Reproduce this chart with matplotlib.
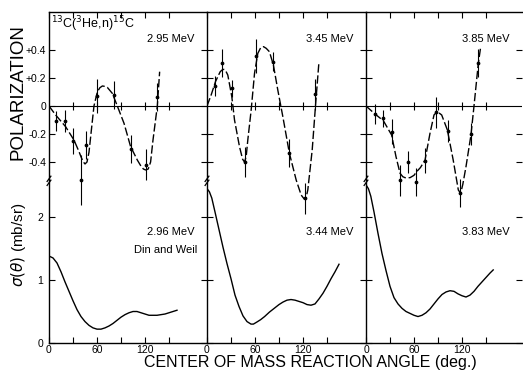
import matplotlib
matplotlib.use('Agg')
import matplotlib.pyplot as plt

plt.rcParams['font.family'] = ['Liberation Sans', 'DejaVu Sans']
plt.rcParams['mathtext.fontset'] = 'dejavusans'

# ---- polarization: measured points (angle deg, P, error) ----
pol_ang_1 = [9, 19.6, 30, 40, 46, 60, 81, 102, 121, 135]
pol_val_1 = [-0.105, -0.105, -0.25, -0.53, -0.28, 0.07, 0.08, -0.31, -0.42, 0.067]
pol_err_1 = [0.07, 0.08, 0.09, 0.18, 0.10, 0.12, 0.10, 0.10, 0.11, 0.10]

pol_ang_2 = [10, 19, 31, 47, 61.5, 82, 103, 122, 135.6]
pol_val_2 = [0.143, 0.31, 0.126, -0.40, 0.357, 0.317, -0.338, -0.66, 0.083]
pol_err_2 = [0.07, 0.10, 0.06, 0.11, 0.12, 0.07, 0.10, 0.11, 0.11]

pol_ang_3 = [11, 21, 32, 42.5, 53, 63, 74, 88, 103, 117.5, 131, 140]
pol_val_3 = [-0.057, -0.088, -0.183, -0.53, -0.40, -0.54, -0.39, -0.045, -0.18, -0.62, -0.20, 0.305]
pol_err_3 = [0.07, 0.06, 0.09, 0.11, 0.08, 0.10, 0.09, 0.11, 0.08, 0.10, 0.08, 0.10]

# ---- polarization: fitted (dashed) curves ----
fit_ang_1 = [0, 8.3, 20.8, 31.2, 37.5, 40.5, 43, 45, 47.5, 50, 53, 56.2, 60.4, 63.5, 66.7,
             70, 72.9, 79.2, 85.4, 93.8, 102, 110.4, 115, 118, 120.8, 124, 127, 130, 135.4,
             138.3]
fit_val_1 = [0, -0.064, -0.148, -0.243, -0.326, -0.37, -0.40, -0.414, -0.40, -0.33, -0.17,
             0, 0.10, 0.13, 0.143, 0.14, 0.133, 0.09, 0, -0.124, -0.29, -0.386, -0.43,
             -0.45, -0.457, -0.45, -0.40, -0.243, 0, 0.245]

fit_ang_2 = [0, 5.2, 10.6, 16.5, 19, 21, 23.5, 26, 31, 34.4, 40.6, 44.5, 46.9, 49, 51, 55.2,
             59.4, 63.5, 67, 70.6, 74, 78, 83, 88.5, 94.8, 103, 111.5, 117.7, 121.9, 124,
             126, 131.5, 135.6, 139.8]
fit_val_2 = [0, 0.079, 0.174, 0.245, 0.258, 0.262, 0.25, 0.221, 0.067, -0.10, -0.29, -0.38,
             -0.40, -0.36, -0.243, -0.029, 0.233, 0.376, 0.415, 0.424, 0.412, 0.388, 0.293,
             0.114, -0.076, -0.338, -0.529, -0.636, -0.667, -0.65, -0.60, -0.314, 0, 0.305]

fit_ang_3 = [0, 11.2, 21.7, 32, 37.5, 42.5, 46, 48.8, 55, 60, 63.3, 68, 73.8, 80, 85, 89,
             94.6, 101.7, 109, 115.4, 118.3, 121, 125, 131.2, 135, 140.4, 143.4]
fit_val_3 = [0, -0.057, -0.105, -0.207, -0.362, -0.48, -0.505, -0.512, -0.512, -0.495,
             -0.469, -0.44, -0.386, -0.195, -0.064, -0.04, -0.064, -0.171, -0.386, -0.60,
             -0.624, -0.56, -0.433, -0.207, 0, 0.305, 0.424]

# ---- cross sections sigma(theta) in mb/sr ----
sig_ang_1 = [0, 5, 10, 15, 20, 25, 30, 35, 40, 45, 50, 55, 60, 65, 70, 75, 80, 85, 90, 95,
             100, 105, 110, 115, 120, 125, 130, 135, 140, 145, 150, 155, 160]
sig_val_1 = [1.38, 1.35, 1.27, 1.13, 0.97, 0.82, 0.67, 0.53, 0.42, 0.34, 0.28, 0.24, 0.22,
             0.22, 0.24, 0.27, 0.31, 0.36, 0.41, 0.45, 0.48, 0.50, 0.50, 0.48, 0.46, 0.44,
             0.44, 0.44, 0.45, 0.46, 0.48, 0.50, 0.52]

sig_ang_2 = [0, 3, 6, 10, 15, 20, 25, 30, 35, 40, 45, 50, 55, 58, 62, 67, 72, 78, 85, 90,
             95, 100, 105, 110, 115, 120, 125, 130, 135, 140, 145, 150, 155, 160, 165]
sig_val_2 = [2.45, 2.40, 2.30, 2.08, 1.80, 1.52, 1.26, 1.02, 0.76, 0.58, 0.43, 0.34, 0.30,
             0.30, 0.33, 0.37, 0.42, 0.49, 0.56, 0.61, 0.65, 0.68, 0.69, 0.68, 0.66, 0.64,
             0.61, 0.60, 0.62, 0.70, 0.79, 0.90, 1.02, 1.13, 1.25]

sig_ang_3 = [0, 3, 6, 10, 15, 20, 25, 30, 35, 40, 45, 50, 55, 60, 65, 70, 75, 80, 85, 90,
             95, 100, 105, 110, 115, 120, 125, 130, 135, 140, 145, 150, 155, 159]
sig_val_3 = [2.51, 2.45, 2.33, 2.08, 1.74, 1.42, 1.15, 0.90, 0.72, 0.62, 0.55, 0.50, 0.47,
             0.44, 0.42, 0.44, 0.48, 0.54, 0.62, 0.70, 0.77, 0.81, 0.83, 0.82, 0.78, 0.75,
             0.73, 0.76, 0.82, 0.90, 0.97, 1.04, 1.11, 1.16]

pol_labels = ['2.95 MeV', '3.45 MeV', '3.85 MeV']
sig_labels = ['2.96 MeV', '3.44 MeV', '3.83 MeV']
angle_ticks = [0, 30, 60, 90, 120, 150]
angle_ticklabels = ['0', '', '60', '', '120', '']
pol_ticks = [-0.4, -0.2, 0, 0.2, 0.4]
pol_ticklabels = ['-0.4', '-0.2', '0', '+0.2', '+0.4']
sig_ticks = [0, 1, 2]

pol_pts = [(pol_ang_1, pol_val_1, pol_err_1), (pol_ang_2, pol_val_2, pol_err_2),
           (pol_ang_3, pol_val_3, pol_err_3)]
pol_fits = [(fit_ang_1, fit_val_1), (fit_ang_2, fit_val_2), (fit_ang_3, fit_val_3)]
sig_curves = [(sig_ang_1, sig_val_1), (sig_ang_2, sig_val_2), (sig_ang_3, sig_val_3)]

fig = plt.figure(figsize=(5.23, 3.72), dpi=100)

W, H = 523.0, 372.0
col_left = [49, 207, 366]
col_width = [158, 159, 156]
bottom_px, top_px = 343, 12
px_per_deg = 0.8

for i in range(3):
    rect = [col_left[i] / W, 1 - bottom_px / H, col_width[i] / W, (bottom_px - top_px) / H]
    xmax = col_width[i] / px_per_deg

    # cross section axes (full column height)
    ax_s = fig.add_axes(rect)
    ax_s.set_xlim(0, xmax)
    ax_s.set_ylim(0, (bottom_px - top_px) / 63.0)
    for side in ['top', 'right']:
        ax_s.spines[side].set_visible(False)
    ax_s.spines['left'].set_linewidth(1.0)
    ax_s.spines['bottom'].set_linewidth(1.0)
    ax_s.plot(sig_curves[i][0], sig_curves[i][1], color='black', lw=1.0)
    ax_s.set_xticks(angle_ticks)
    ax_s.set_xticklabels(angle_ticklabels)
    ax_s.set_yticks(sig_ticks)
    ax_s.tick_params(axis='both', direction='in', length=4, width=0.8,
                     labelsize=7.5, pad=1.5, right=True)
    if i == 0:
        ax_s.set_yticklabels(['0', '1', '2'])
        ax_s.tick_params(axis='y', pad=4)
    else:
        ax_s.set_yticklabels([])

    # polarization axes (same rectangle, transparent)
    ax_p = fig.add_axes(rect)
    ax_p.patch.set_visible(False)
    ax_p.set_xlim(0, xmax)
    ax_p.set_ylim(-(bottom_px - 106) / 140.0, (106 - top_px) / 140.0)
    for side in ['left', 'right', 'bottom']:
        ax_p.spines[side].set_visible(False)
    ax_p.spines['top'].set_linewidth(1.0)
    ax_p.axhline(0, color='black', lw=0.8)
    ax_p.plot(angle_ticks[1:], [0] * 5, ls='none', marker='|', ms=6, mew=0.8, color='black')
    ax_p.plot(pol_fits[i][0], pol_fits[i][1], color='black', lw=1.0, dashes=(6, 2))
    ax_p.errorbar(pol_pts[i][0], pol_pts[i][1], yerr=pol_pts[i][2], fmt='o', ms=1.7,
                  color='black', elinewidth=0.8, capsize=0)
    ax_p.xaxis.set_ticks_position('top')
    ax_p.set_xticks(angle_ticks)
    ax_p.set_xticklabels([])
    ax_p.set_yticks([-0.4, -0.2, 0.2, 0.4] if i > 0 else pol_ticks)
    ax_p.tick_params(axis='both', direction='in', length=4, width=0.8,
                     labelsize=7.5, pad=2, left=True, right=True)
    if i == 0:
        ax_p.set_yticklabels(pol_ticklabels)
    else:
        ax_p.set_yticklabels([])

    # axis break mark on the left spine
    for dy in [-0.006, 0.006]:
        ax_s.plot([-0.012, 0.012], [0.49 + dy - 0.008, 0.49 + dy + 0.008],
                  transform=ax_s.transAxes, color='black', lw=0.9, clip_on=False)

    ax_p.text(0.77, 0.918, pol_labels[i], transform=ax_s.transAxes,
              ha='center', va='center', fontsize=8)
    ax_s.text(0.77, 0.335, sig_labels[i], transform=ax_s.transAxes,
              ha='center', va='center', fontsize=8)
    if i == 0:
        ax_s.text(0.74, 0.28, 'Din and Weil', transform=ax_s.transAxes,
                  ha='center', va='center', fontsize=8)
        ax_p.text(0.015, 0.962, r'$^{13}$C($^{3}$He,n)$^{15}$C', transform=ax_s.transAxes,
                  ha='left', va='center', fontsize=9)

fig.text(18 / W, 1 - 92 / H, 'POLARIZATION', rotation=90, ha='center', va='center',
         fontsize=13.5)
fig.text(18 / W, 1 - 245 / H, r'$\sigma(\theta)$ (mb/sr)', rotation=90, ha='center',
         va='center', fontsize=11)
fig.text(310 / W, 1 - 363 / H, 'CENTER OF MASS REACTION ANGLE (deg.)', ha='center',
         va='center', fontsize=11.5)

fig.savefig('out.png', dpi=100)
